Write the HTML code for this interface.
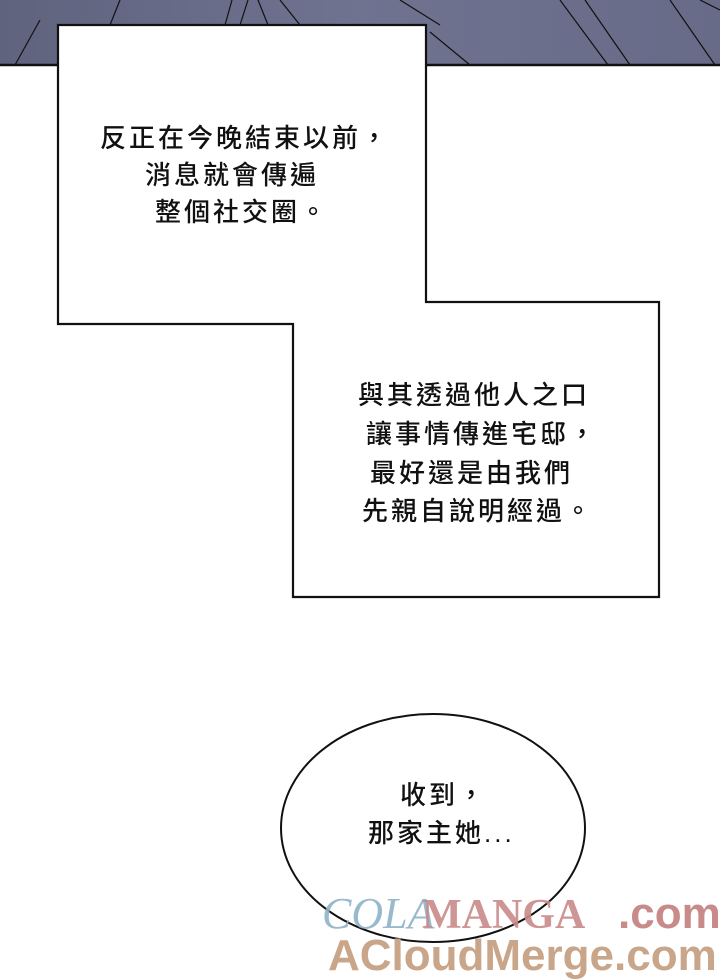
<!DOCTYPE html>
<html><head><meta charset="utf-8"><style>
body{margin:0;width:720px;height:980px;overflow:hidden;background:#fff;position:relative;font-family:"Liberation Sans","Noto Sans CJK TC",sans-serif;}
.t{position:absolute;font-size:26px;font-weight:500;letter-spacing:3px;color:#111;white-space:nowrap;line-height:1}
</style></head><body>
<svg width="720" height="980" style="position:absolute;left:0;top:0">
<defs><linearGradient id="g" x1="0" x2="1"><stop offset="0" stop-color="#5f637e"/><stop offset="0.5" stop-color="#6f7390"/><stop offset="1" stop-color="#676b88"/></linearGradient></defs>
<rect x="0" y="0" width="720" height="65" fill="url(#g)"/>
<g stroke="#111" stroke-width="1.2" fill="none">
<line x1="120" y1="0" x2="110" y2="25"/><line x1="232" y1="0" x2="225" y2="25"/><line x1="248" y1="0" x2="240" y2="25"/>
<line x1="258" y1="0" x2="268" y2="25"/><line x1="280" y1="0" x2="300" y2="25"/>
<line x1="430" y1="32" x2="470" y2="65"/><line x1="400" y1="0" x2="440" y2="25"/>
<line x1="560" y1="0" x2="608" y2="65"/><line x1="585" y1="0" x2="630" y2="65"/>
<line x1="670" y1="0" x2="715" y2="65"/><line x1="700" y1="0" x2="720" y2="10"/>
<line x1="40" y1="20" x2="15" y2="65"/>
</g>
<line x1="0" y1="65" x2="720" y2="65" stroke="#111" stroke-width="2.5"/>
<polygon points="58,25 426,25 426,302 659,302 659,597 293,597 293,324 58,324" fill="#fff" stroke="#111" stroke-width="2.2"/>
<ellipse cx="433" cy="828" rx="152" ry="114" fill="#fff" stroke="#111" stroke-width="2"/>
<text x="322" y="928" font-family="Liberation Serif,serif" font-style="italic" font-size="44" fill="#8fb3c8" opacity="0.9">COLA</text>
<text x="422" y="928" font-family="Liberation Serif,serif" font-weight="bold" font-size="42" fill="#c98a8a" opacity="0.9">MANGA</text>
<text x="618" y="928" font-family="Liberation Sans,sans-serif" font-weight="bold" font-size="44" fill="#c98a8a">.com</text>
<text x="328" y="970" font-family="Liberation Sans,sans-serif" font-weight="bold" font-size="44" fill="#c9a68a">ACloudMerge.com</text>
</svg>
<div class="t" style="left:100px;top:125px">反正在今晚結束以前，</div>
<div class="t" style="left:145px;top:162px">消息就會傳遍</div>
<div class="t" style="left:155px;top:199px">整個社交圈。</div>
<div class="t" style="left:358px;top:382px">與其透過他人之口</div>
<div class="t" style="left:366px;top:421px">讓事情傳進宅邸，</div>
<div class="t" style="left:370px;top:460px">最好還是由我們</div>
<div class="t" style="left:362px;top:498px">先親自說明經過。</div>
<div class="t" style="left:400px;top:782px">收到，</div>
<div class="t" style="left:368px;top:820px">那家主她...</div>
</body></html>
